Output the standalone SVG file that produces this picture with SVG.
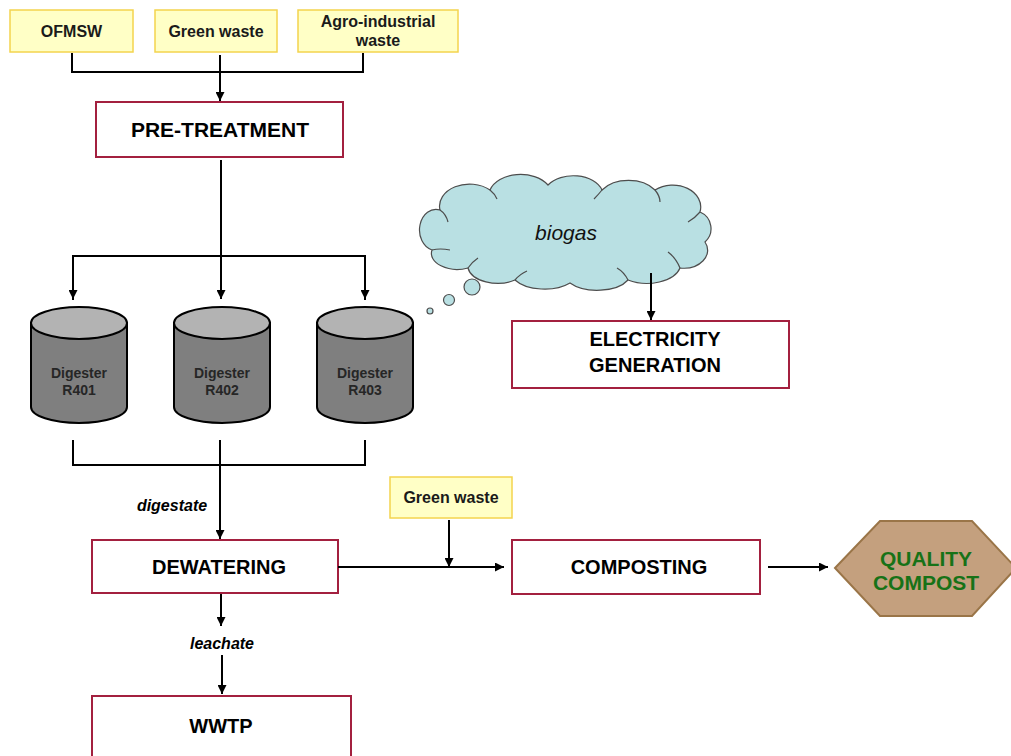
<svg xmlns="http://www.w3.org/2000/svg" width="1011" height="756" viewBox="0 0 1011 756">
  <defs>
    <marker id="arrow" viewBox="0 0 10 10" refX="10" refY="5" markerWidth="9" markerHeight="9" markerUnits="userSpaceOnUse" orient="auto">
      <path d="M0,0 L10,5 L0,10 Z" fill="#000"/>
    </marker>
    <linearGradient id="topline" x1="0" x2="1" y1="0" y2="0">
      <stop offset="0" stop-color="#ffffff"/>
      <stop offset="1" stop-color="#dfeccf"/>
    </linearGradient>
  </defs>
  <style>
    .input rect { fill: #FFFFC6; stroke: #F4D44E; stroke-width: 1.5; }
    .input text { font-family: "Liberation Sans", Arial, sans-serif; font-weight: bold; font-size: 16px; fill: #1a1a1a; text-anchor: middle; }
    .process rect { fill: #fff; stroke: #A3203F; stroke-width: 2; }
    .process text { font-family: "Liberation Sans", Arial, sans-serif; font-weight: bold; font-size: 20px; fill: #000; text-anchor: middle; }
    .tank .body { fill: #7f7f7f; stroke: #000; stroke-width: 2; }
    .tank .lid { fill: #b3b3b3; stroke: #000; stroke-width: 2; }
    .tank text { font-family: "Liberation Sans", Arial, sans-serif; font-weight: bold; font-size: 14px; fill: #262626; text-anchor: middle; }
    .label { font-family: "Liberation Sans", Arial, sans-serif; font-weight: bold; font-style: italic; font-size: 16px; fill: #000; text-anchor: middle; }
    .wire { fill: none; stroke: #000; stroke-width: 2; }
    .arrow { fill: none; stroke: #000; stroke-width: 2; marker-end: url(#arrow); }
  </style>

  <rect width="1011" height="756" fill="#fff"/>
  <line x1="0" y1="6" x2="1011" y2="6" stroke="url(#topline)" stroke-width="1.5"/>

  <!-- raw material inputs -->
  <g id="ofmsw" class="input">
    <rect x="10" y="10" width="123" height="42"/>
    <text x="71.5" y="37">OFMSW</text>
  </g>
  <g id="green-waste" class="input">
    <rect x="155" y="10" width="122" height="42"/>
    <text x="216" y="37">Green waste</text>
  </g>
  <g id="agro-industrial" class="input">
    <rect x="298" y="10" width="160" height="42"/>
    <text x="378" y="27">Agro-industrial</text>
    <text x="378" y="46">waste</text>
  </g>

  <g id="pre-treatment" class="process">
    <rect x="96" y="102" width="247" height="55"/>
    <text x="220" y="137" style="font-size:21px">PRE-TREATMENT</text>
  </g>

  <!-- digesters -->
  <g id="digester-r401" class="tank">
    <path class="body" d="M31,323 L31,407 A48,16 0 0 0 127,407 L127,323 Z"/>
    <ellipse class="lid" cx="79" cy="323" rx="48" ry="16"/>
    <text x="79" y="378">Digester</text>
    <text x="79" y="395">R401</text>
  </g>
  <g id="digester-r402" class="tank">
    <path class="body" d="M174,323 L174,407 A48,16 0 0 0 270,407 L270,323 Z"/>
    <ellipse class="lid" cx="222" cy="323" rx="48" ry="16"/>
    <text x="222" y="378">Digester</text>
    <text x="222" y="395">R402</text>
  </g>
  <g id="digester-r403" class="tank">
    <path class="body" d="M317,323 L317,407 A48,16 0 0 0 413,407 L413,323 Z"/>
    <ellipse class="lid" cx="365" cy="323" rx="48" ry="16"/>
    <text x="365" y="378">Digester</text>
    <text x="365" y="395">R403</text>
  </g>

  <!-- biogas cloud with thought bubbles -->
  <g id="biogas">
    <path d="M432,250 A16,20 0 0 1 440,210 A30,22 0 0 1 490,190 A32,22 0 0 1 548,185 A30,20 0 0 1 602,190 A32,22 0 0 1 655,190 A28,22 0 0 1 700,212 A18,18 0 0 1 705,242 A24,18 0 0 1 680,268 A34,20 0 0 1 628,280 A34,18 0 0 1 570,283 A34,18 0 0 1 515,280 A30,18 0 0 1 468,268 A26,16 0 0 1 432,250 Z" fill="#B9E0E3" stroke="#4d4d4d" stroke-width="1.2"/>
    <path d="M440,210 Q446,214 448,222 M490,190 Q495,194 497,199 M602,190 Q598,195 594,199 M655,190 Q660,196 660,202 M700,212 Q695,218 688,222 M680,268 Q676,258 668,252 M628,280 Q624,272 617,268 M515,280 Q520,274 527,271 M468,268 Q472,262 478,258 M432,250 Q440,248 450,250" fill="none" stroke="#4d4d4d" stroke-width="1.2"/>
    <circle cx="472" cy="287" r="8" fill="#B9E0E3" stroke="#4d4d4d" stroke-width="1.2"/>
    <circle cx="449" cy="300" r="5.5" fill="#B9E0E3" stroke="#4d4d4d" stroke-width="1.2"/>
    <circle cx="430" cy="311" r="3" fill="#B9E0E3" stroke="#4d4d4d" stroke-width="1.2"/>
    <text x="566" y="240" style="font-family:'Liberation Sans',Arial,sans-serif;font-style:italic;font-size:21px;fill:#111;text-anchor:middle">biogas</text>
  </g>

  <g id="electricity-generation" class="process">
    <rect x="512" y="321" width="277" height="67"/>
    <text x="655" y="346">ELECTRICITY</text>
    <text x="655" y="372">GENERATION</text>
  </g>

  <g id="dewatering" class="process">
    <rect x="92" y="540" width="246" height="53"/>
    <text x="219" y="574">DEWATERING</text>
  </g>

  <g id="green-waste-2" class="input">
    <rect x="390" y="477" width="122" height="41"/>
    <text x="451" y="503">Green waste</text>
  </g>

  <g id="composting" class="process">
    <rect x="512" y="540" width="248" height="54"/>
    <text x="639" y="574">COMPOSTING</text>
  </g>

  <g id="quality-compost">
    <polygon points="835,568 880,521 972,521 1016,568 972,616 880,616" fill="#C4A07E" stroke="#9A7548" stroke-width="2"/>
    <text x="926" y="566" style="font-family:'Liberation Sans',Arial,sans-serif;font-weight:bold;font-size:21px;fill:#177217;text-anchor:middle">QUALITY</text>
    <text x="926" y="590" style="font-family:'Liberation Sans',Arial,sans-serif;font-weight:bold;font-size:21px;fill:#177217;text-anchor:middle">COMPOST</text>
  </g>

  <g id="wwtp" class="process">
    <rect x="92" y="696" width="259" height="70"/>
    <text x="221" y="733">WWTP</text>
  </g>

  <!-- flow lines -->
  <g id="connectors">
    <path class="wire" d="M72,53 V72 H363 V53"/>
    <path class="arrow" d="M220,55 V101"/>
    <path class="wire" d="M221,160 V256 M73,300 V256 H365 V300"/>
    <path class="arrow" d="M73,256 V299"/>
    <path class="arrow" d="M221,256 V299"/>
    <path class="arrow" d="M365,256 V299"/>
    <path class="arrow" d="M651,273 V320"/>
    <path class="wire" d="M73,440 V465 H365 V440"/>
    <path class="arrow" d="M220,440 V539"/>
    <text class="label" x="172" y="511">digestate</text>
    <path class="arrow" d="M338,567 H504"/>
    <path class="arrow" d="M449,520 V567"/>
    <path class="arrow" d="M768,567 H828"/>
    <path class="arrow" d="M221,594 V626"/>
    <text class="label" x="222" y="649">leachate</text>
    <path class="arrow" d="M222,655 V694"/>
  </g>
</svg>
